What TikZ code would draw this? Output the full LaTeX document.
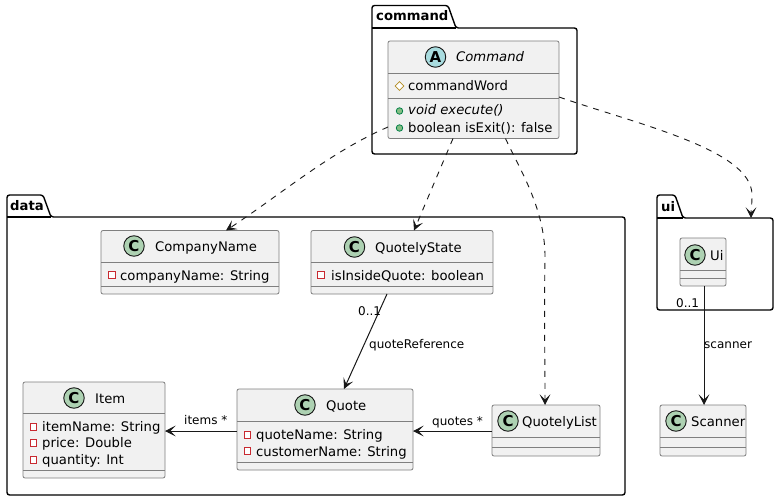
\documentclass[tikz,border=0pt]{standalone}
\usepackage{fontspec}
\setmainfont{DejaVu Sans}
\usetikzlibrary{arrows.meta,calc,shapes.geometric}
\definecolor{boxfill}{HTML}{F1F1F1}
\definecolor{boxline}{HTML}{7F7F7F}
\definecolor{ink}{HTML}{181818}
\definecolor{cgreen}{HTML}{ADD1B2}
\definecolor{acyan}{HTML}{A9DCDF}
\definecolor{privred}{HTML}{C82930}
\definecolor{pubgreen}{HTML}{84BE84}
\definecolor{publine}{HTML}{038048}
\definecolor{protgold}{HTML}{B38D22}
\tikzset{
  classbox/.style={draw=boxline,fill=boxfill,rounded corners=2pt,line width=0.8pt,inner sep=0,outer sep=0},
  divider/.style={draw=boxline,line width=0.8pt},
  pkg/.style={draw=black,line width=1.4pt,rounded corners=2.5pt,fill=white},
  pkglabel/.style={font=\fontsize{13.2}{15}\selectfont\bfseries,text=black,inner sep=0,anchor=base west},
  title/.style={font=\fontsize{13.2}{15}\selectfont,text=black,inner sep=0,anchor=base west},
  member/.style={font=\fontsize{13.2}{15}\selectfont,text=black,inner sep=0,anchor=base west},
  edgelabel/.style={font=\fontsize{12}{14}\selectfont,text=black,inner sep=0,anchor=base west},
  badge/.style={circle,draw=ink,line width=0.9pt,minimum size=20.5pt,inner sep=0,font=\fontsize{15}{16}\selectfont\bfseries,text=black},
  priv/.style={draw=privred,fill=white,line width=0.9pt,minimum size=6.5pt,inner sep=0},
  pub/.style={circle,draw=publine,fill=pubgreen,line width=0.8pt,minimum size=6.5pt,inner sep=0},
  prot/.style={diamond,draw=protgold,fill=white,line width=0.8pt,minimum size=9pt,inner sep=0},
  assoc/.style={draw=ink,line width=1pt,-{Stealth[length=10.5pt,width=10.5pt,inset=5pt]}},
  dep/.style={draw=ink,line width=0.9pt,dash pattern=on 6pt off 6pt,-{Stealth[length=10.5pt,width=10.5pt,inset=5pt]}},
}
% name, x0, y0, x1, y1, divider1, divider2
\newcommand{\umlbox}[7]{%
  \pgfmathsetmacro{\bw}{#4-#2}\pgfmathsetmacro{\bh}{#5-#3}%
  \pgfmathsetmacro{\bx}{(#4+#2)/2}\pgfmathsetmacro{\by}{(#5+#3)/2}%
  \node[classbox,minimum width=\bw pt,minimum height=\bh pt] (#1) at (\bx,\by) {};
  \draw[divider] (#2,#6) -- (#4,#6);
  \draw[divider] (#2,#7) -- (#4,#7);
}
\begin{document}
\begin{tikzpicture}[x=1pt,y=-1pt]
\useasboundingbox (0,0) rectangle (779,500);
\fill[white] (0,0) rectangle (779,500);

% packages
\draw[pkg] (372,28) -- (372,5.5) -- (448,5.5) -- (456,28) -- (577,28) -- (577,154) -- (372,154) -- cycle;
\draw[line width=1.4pt] (372,28) -- (456,28);
\node[pkglabel] (pcommand) at (376,21) {command};

\draw[pkg] (7,217) -- (7,195) -- (43,195) -- (51,217) -- (625,217) -- (625,495) -- (7,495) -- cycle;
\draw[line width=1.4pt] (7,217) -- (51,217);
\node[pkglabel] (pdata) at (10,210) {data};

\draw[pkg] (657,218) -- (657,195) -- (675,195) -- (683,218) -- (773,218) -- (773,310) -- (657,310) -- cycle;
\draw[line width=1.4pt] (657,218) -- (683,218);
\node[pkglabel] (pui) at (661,211) {ui};
\coordinate (uitop) at (751,218);

% Command
\umlbox{cmd}{388}{41}{559}{138.5}{73}{98}
\node[badge,fill=acyan] (cmdb) at (435.5,57) {A};
\node[title,font=\fontsize{13.2}{15}\selectfont\itshape] (cmdt) at (456,62) {Command};
\node[prot] (cmdi1) at (399.5,86) {};
\node[member] (cmdm1) at (408,91) {commandWord};
\node[pub] (cmdi2) at (399.5,111) {};
\node[member,font=\fontsize{13.2}{15}\selectfont\itshape] (cmdm2) at (408,115) {void execute()};
\node[pub] (cmdi3) at (399.5,128) {};
\node[member] (cmdm3) at (408,132) {boolean isExit(): false};

% CompanyName
\umlbox{comp}{101}{230.5}{279}{294}{262}{286}
\node[badge,fill=cgreen] (compb) at (134,246) {C};
\node[title] (compt) at (155,251) {CompanyName};
\node[priv] (compi) at (112,275) {};
\node[member] (compm) at (120,280) {companyName: String};

% QuotelyState
\umlbox{state}{311}{230.5}{493}{294}{262}{286}
\node[badge,fill=cgreen] (stateb) at (354.5,247) {C};
\node[title] (statet) at (375,252) {QuotelyState};
\node[priv] (statei) at (321,275) {};
\node[member] (statem) at (331,280) {isInsideQuote: boolean};

% Item
\umlbox{item}{23}{382}{165}{478}{413}{470}
\node[badge,fill=cgreen] (itemb) at (74,398) {C};
\node[title] (itemt) at (95,403) {Item};
\node[priv] (itemi1) at (33.5,427) {};
\node[member] (itemm1) at (42,431) {itemName: String};
\node[priv] (itemi2) at (33.5,443) {};
\node[member] (itemm2) at (42,447) {price: Double};
\node[priv] (itemi3) at (33.5,460) {};
\node[member] (itemm3) at (42,464) {quantity: Int};

% Quote
\umlbox{quote}{237}{389}{413}{470}{421.5}{462}
\node[badge,fill=cgreen] (quoteb) at (305,405) {C};
\node[title] (quotet) at (326,410) {Quote};
\node[priv] (quotei1) at (247.5,435) {};
\node[member] (quotem1) at (256,439) {quoteName: String};
\node[priv] (quotei2) at (247.5,451) {};
\node[member] (quotem2) at (256,456) {customerName: String};

% QuotelyList
\umlbox{list}{492}{405}{600}{456}{437}{447}
\node[badge,fill=cgreen] (listb) at (508,421) {C};
\node[title] (listt) at (522,426) {QuotelyList};

% Ui
\umlbox{ui}{680}{238}{726}{286}{270}{278}
\node[badge,fill=cgreen] (uib) at (695,255) {C};
\node[title] (uit) at (710,260) {Ui};

% Scanner
\umlbox{scan}{660}{405}{746}{456}{437}{447}
\node[badge,fill=cgreen] (scanb) at (676,421) {C};
\node[title] (scant) at (691,426) {Scanner};

% dependencies
\draw[dep] ([yshift=-37.25pt]cmd.east -| cmd.west) .. controls (330,152) and (280,195) .. ([xshift=36pt]comp.north);
\draw[dep] ([xshift=-20.5pt]cmd.south) -- ([xshift=12pt]state.north);
\draw[dep] ([xshift=32pt]cmd.south) .. controls (520,170) and (546,210) .. (545,260) .. controls (544,310) and (545,360) .. ([xshift=-1pt]list.north);
\draw[dep] ([yshift=-7.25pt]cmd.east) .. controls (640,125) and (752,150) .. (752,195) .. controls (752,205) and (751,210) .. (uitop);

% associations
\draw[assoc] ([xshift=-15pt]state.south) -- ([xshift=19pt]quote.north);
\draw[assoc] (quote.west |- 0,431) -- (item.east |- 0,431);
\draw[assoc] (list.west |- 0,431) -- (quote.east |- 0,431);
\draw[assoc] (ui.south -| 704,0) -- (scan.north -| 704,0);

% edge labels
\node[edgelabel] (l01a) at (358,315) {0..1};
\node[edgelabel] (lqr) at (369,348) {quoteReference};
\node[edgelabel] (litems) at (184,424) {items *};
\node[edgelabel] (lquotes) at (432,425) {quotes *};
\node[edgelabel] (l01b) at (676,307) {0..1};
\node[edgelabel] (lscan) at (704,348) {scanner};
\end{tikzpicture}
\end{document}
